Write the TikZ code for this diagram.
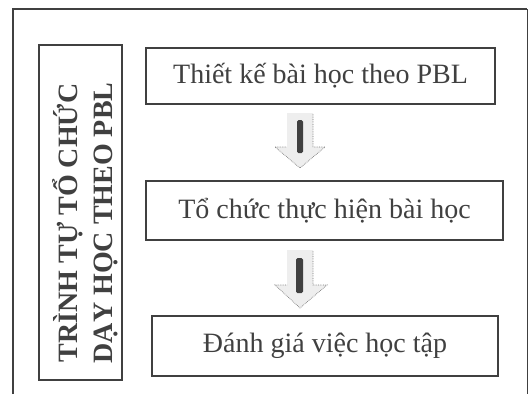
\documentclass[tikz,border=0pt]{standalone}
\usepackage{fontspec}
\setmainfont{Liberation Serif}
\definecolor{ink}{HTML}{404040}
\definecolor{arrowfill}{HTML}{EEEEEE}
\tikzset{
  stepbox/.style={draw=ink, line width=2.8pt, text=ink, inner sep=0pt,
    font=\fontsize{28}{32}\selectfont},
  sidebox/.style={draw=ink, line width=2.6pt, inner sep=0pt},
  sidetext/.style={text=ink, rotate=90, align=center, inner sep=0pt,
    font=\bfseries\fontsize{28}{35}\selectfont},
  blockarrow/.style={fill=arrowfill, draw=none},
  arrowedge/.style={draw=ink!70, densely dotted, line width=0.7pt},
  arrowbar/.style={fill=ink, rounded corners=1.5pt},
}
\begin{document}
\begin{tikzpicture}[x=1pt, y=-1pt]
  \useasboundingbox (0,0) rectangle (528,394);
  % open outer frame
  \draw[ink, line width=2.6pt] (13,394) -- (13,9) -- (527,9);
  \draw[ink, line width=1pt] (527,9) -- (527,394);

  % side label
  \node[sidebox, minimum width=83pt, minimum height=335pt] (side) at (80.5,212.5) {};
  \node[sidetext] (sidelabel) at (85,223) {TRÌNH TỰ TỔ CHỨC\\DẠY HỌC THEO PBL};

  % the three steps
  \node[stepbox, minimum width=349pt, minimum height=56pt] (s1) at (320.5,76) {Thiết kế bài học theo PBL};
  \node[stepbox, minimum width=357pt, minimum height=59pt] (s2) at (324.5,210.5) {Tổ chức thực hiện bài học};
  \node[stepbox, minimum width=346pt, minimum height=60pt] (s3) at (325,346) {Đánh giá việc học tập};

  % block arrow from step 1 to step 2
  \coordinate (a1) at (300,113);
  \fill[blockarrow] (287,113) -- (313,113) -- (313,147) -- (325,147) -- (300,168)
    -- (275,147) -- (287,147) -- cycle;
  \draw[arrowedge] (313,114) -- (313,147) -- (325,147) -- (300,168) -- (275,147) -- (287,147);
  \fill[arrowbar] (297,120) rectangle (303,153);

  % block arrow from step 2 to step 3
  \coordinate (a2) at (300,250);
  \fill[blockarrow] (287,250) -- (313,250) -- (313,285) -- (327,285) -- (300,308)
    -- (275,285) -- (287,285) -- cycle;
  \draw[arrowedge] (313,251) -- (313,285) -- (327,285) -- (300,308) -- (275,285) -- (287,285);
  \fill[arrowbar] (296,258) rectangle (303,293);
\end{tikzpicture}
\end{document}
